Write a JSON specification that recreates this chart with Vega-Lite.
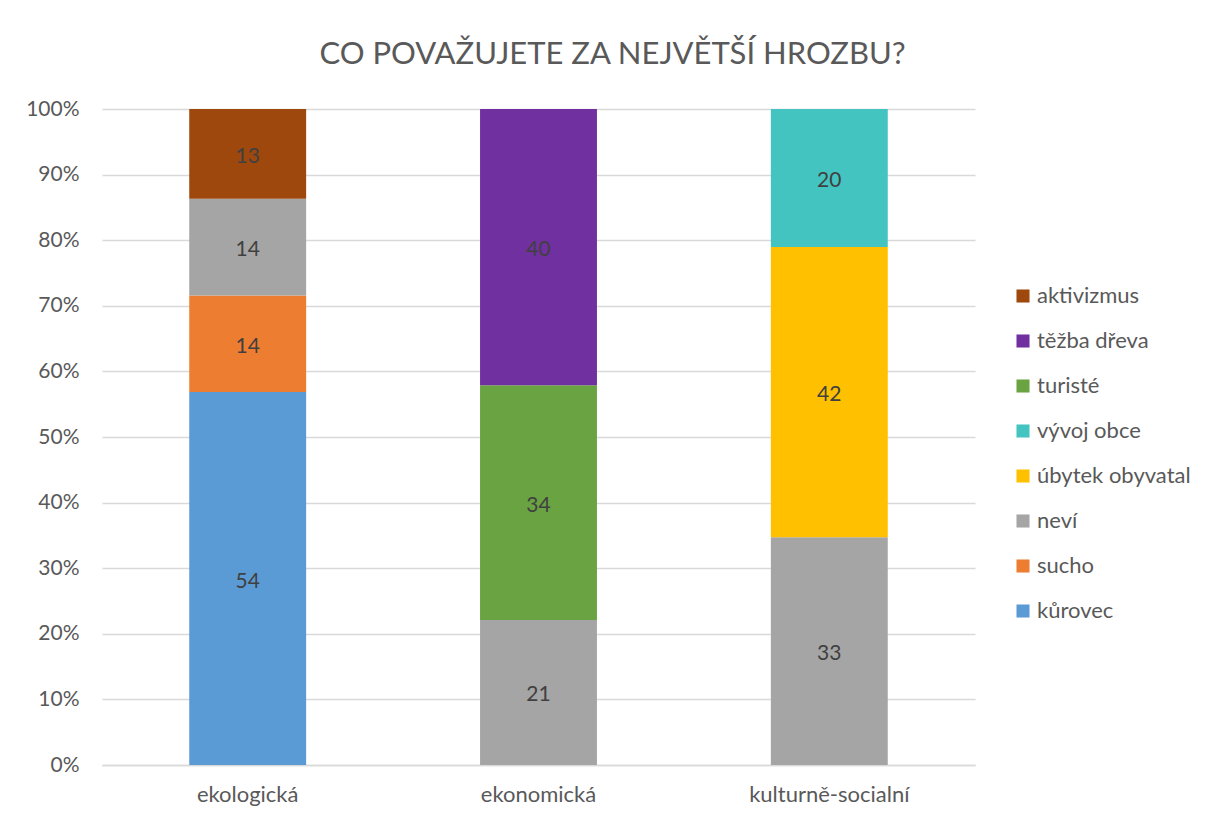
{
  "$schema": "https://vega.github.io/schema/vega-lite/v6.json",
  "width": 873,
  "height": 656,
  "autosize": {"type": "none"},
  "padding": {"left": 102, "top": 109, "right": 231, "bottom": 55},
  "background": "white",
  "title": {
    "text": "CO POVAŽUJETE ZA NEJVĚTŠÍ HROZBU?",
    "font": "Lato",
    "fontSize": 31,
    "fontWeight": "normal",
    "color": "#595959",
    "anchor": "middle",
    "frame": "group",
    "dx": 74,
    "offset": 27
  },
  "data": {
    "values": [
      {"oblast": "ekologická", "hrozba": "kůrovec", "i": 0, "pocet": 54},
      {"oblast": "ekologická", "hrozba": "sucho", "i": 1, "pocet": 14},
      {"oblast": "ekologická", "hrozba": "neví", "i": 2, "pocet": 14},
      {"oblast": "ekologická", "hrozba": "aktivizmus", "i": 7, "pocet": 13},
      {"oblast": "ekonomická", "hrozba": "neví", "i": 2, "pocet": 21},
      {"oblast": "ekonomická", "hrozba": "turisté", "i": 5, "pocet": 34},
      {"oblast": "ekonomická", "hrozba": "těžba dřeva", "i": 6, "pocet": 40},
      {"oblast": "kulturně-socialní", "hrozba": "neví", "i": 2, "pocet": 33},
      {"oblast": "kulturně-socialní", "hrozba": "úbytek obyvatal", "i": 3, "pocet": 42},
      {"oblast": "kulturně-socialní", "hrozba": "vývoj obce", "i": 4, "pocet": 20}
    ]
  },
  "transform": [
    {"stack": "pocet", "groupby": ["oblast"], "sort": [{"field": "i"}], "offset": "normalize", "as": ["s0", "s1"]},
    {"calculate": "(datum.s0 + datum.s1) / 2", "as": "mid"}
  ],
  "encoding": {
    "x": {
      "field": "oblast",
      "type": "nominal",
      "sort": null,
      "scale": {"paddingInner": 0.598, "paddingOuter": 0.3},
      "axis": {
        "title": null,
        "labelAngle": 0,
        "labelFont": "Lato",
        "labelFontSize": 22,
        "labelColor": "#595959",
        "labelPadding": 19,
        "ticks": false,
        "domainColor": "#d9d9d9",
        "domainWidth": 1.5
      }
    }
  },
  "layer": [
    {
      "mark": {"type": "bar"},
      "encoding": {
        "y": {
          "field": "s0",
          "type": "quantitative",
          "scale": {"domain": [0, 1], "nice": false},
          "axis": {
            "title": null,
            "format": ".0%",
            "values": [0, 0.1, 0.2, 0.3, 0.4, 0.5, 0.6, 0.7, 0.8, 0.9, 1],
            "labelFont": "Lato",
            "labelFontSize": 21,
            "labelColor": "#595959",
            "labelPadding": 23,
            "ticks": false,
            "domain": false,
            "gridColor": "#d9d9d9",
            "gridWidth": 1.5
          }
        },
        "y2": {"field": "s1"},
        "color": {
          "field": "hrozba",
          "type": "nominal",
          "scale": {
            "domain": ["aktivizmus", "těžba dřeva", "turisté", "vývoj obce", "úbytek obyvatal", "neví", "sucho", "kůrovec"],
            "range": ["#9E480E", "#7030A0", "#6AA342", "#43C4C0", "#FFC000", "#A5A5A5", "#ED7D31", "#5B9BD5"]
          },
          "legend": {
            "title": null,
            "orient": "none",
            "legendX": 910,
            "legendY": 176,
            "symbolType": "square",
            "symbolSize": 170,
            "symbolStrokeWidth": 0,
            "labelFont": "Lato",
            "labelFontSize": 22,
            "labelColor": "#595959",
            "labelOffset": 3,
            "rowPadding": 23,
            "labelLimit": 300
          }
        }
      }
    },
    {
      "mark": {"type": "text", "font": "Lato", "fontSize": 21, "color": "#404040", "baseline": "middle", "dy": 3},
      "encoding": {
        "y": {"field": "mid", "type": "quantitative"},
        "text": {"field": "pocet", "type": "quantitative"}
      }
    }
  ],
  "config": {"view": {"stroke": null}}
}
